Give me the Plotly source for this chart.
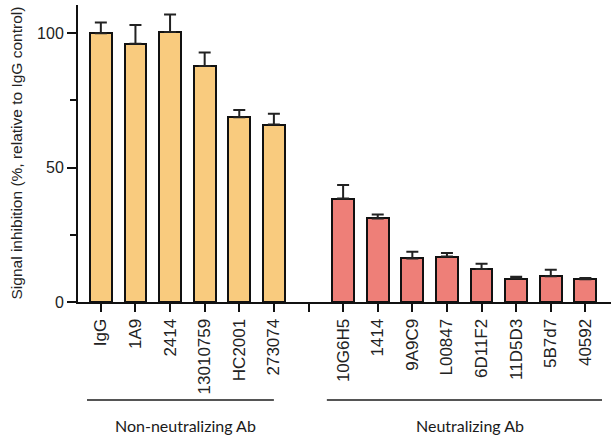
import plotly.graph_objects as go

# ---- data ----
non_neut_labels = ["IgG", "1A9", "2414", "13010759", "HC2001", "273074"]
non_neut_values = [100.0, 96.1, 100.5, 87.8, 68.7, 66.0]
non_neut_err = [4.0, 7.0, 6.5, 5.0, 2.7, 4.0]

neut_labels = ["10G6H5", "1414", "9A9C9", "L00847", "6D11F2", "11D5D3", "5B7d7", "40592"]
neut_values = [38.5, 31.1, 16.2, 16.9, 12.3, 8.7, 9.6, 8.5]
neut_err = [5.0, 1.5, 2.5, 1.3, 1.9, 0.7, 2.4, 0.4]

group_names = ["Non-neutralizing Ab", "Neutralizing Ab"]
y_tick_values = [0, 50, 100]
y_title = "Signal inhibition (%, relative to IgG control)"

# ---- positions (one empty slot between groups) ----
x_non = list(range(len(non_neut_labels)))
gap = len(non_neut_labels)
x_neut = [gap + 1 + i for i in range(len(neut_labels))]
all_ticks = x_non + [gap] + x_neut
all_text = non_neut_labels + [""] + neut_labels

YELLOW = "#F9CB7E"
PINK = "#EE7F78"

fig = go.Figure()
for xs, vals, errs, col in [(x_non, non_neut_values, non_neut_err, YELLOW),
                            (x_neut, neut_values, neut_err, PINK)]:
    fig.add_trace(go.Bar(
        x=xs, y=vals, width=0.63,
        marker=dict(color=col, line=dict(color="#111111", width=2)),
        error_y=dict(type="data", array=errs, symmetric=False,
                     arrayminus=[0] * len(errs), color="#222222",
                     thickness=2, width=6),
        showlegend=False,
    ))

fig.update_layout(
    width=611, height=438,
    margin=dict(l=78, r=0, t=5, b=136),
    plot_bgcolor="white", paper_bgcolor="white",
    font=dict(family="Arial, Liberation Sans, sans-serif", color="#222222"),
    bargap=0,
)
fig.update_xaxes(
    range=[-0.66, 14.74],
    tickmode="array", tickvals=all_ticks, ticktext=all_text,
    tickangle=-90, tickfont=dict(size=17, color="#222222"),
    showline=True, linewidth=2, linecolor="#111111",
    ticks="outside", ticklen=8, tickwidth=2, tickcolor="#111111",
    showgrid=False, zeroline=False, automargin=False,
)
fig.update_yaxes(
    range=[0, 110.5],
    tickmode="array", tickvals=y_tick_values,
    tickfont=dict(size=16, color="#222222"),
    showline=True, linewidth=2, linecolor="#111111",
    ticks="outside", ticklen=9, tickwidth=2, tickcolor="#111111",
    minor=dict(tickmode="array", tickvals=[25, 75], ticks="outside",
               ticklen=6, tickwidth=2, tickcolor="#111111", showgrid=False),
    showgrid=False, zeroline=False, automargin=False,
)

# y-axis title as rotated text
fig.add_annotation(xref="paper", yref="paper", x=-62 / 533, y=0.5,
                   text=y_title, textangle=-90, showarrow=False,
                   xanchor="center", yanchor="middle",
                   font=dict(size=15.5, color="#222222"))

# group brackets and labels
groups = [(x_non[0] - 0.4, x_non[-1] - 0.0, group_names[0]),
          (x_neut[0] - 0.47, x_neut[-1] + 0.48, group_names[1])]
for x0, x1, name in groups:
    fig.add_shape(type="line", xref="x", yref="paper", x0=x0, x1=x1,
                  y0=-0.33, y1=-0.33, line=dict(color="#555555", width=2))
    fig.add_annotation(xref="x", yref="paper", x=(x0 + x1) / 2 + 0.15, y=-0.415,
                       text=name, showarrow=False, yanchor="middle",
                       font=dict(family="Lato, Open Sans, sans-serif", size=16,
                                 color="#1a1a1a"))

fig.write_html("out.html", config={"displayModeBar": False})

# remove the browser's default page margin so the figure fills the window
with open("out.html", "r", encoding="utf-8") as f:
    html = f.read()
html = html.replace("<head>", "<head><style>html,body{margin:0;padding:0;overflow:hidden;}</style>", 1)
with open("out.html", "w", encoding="utf-8") as f:
    f.write(html)
